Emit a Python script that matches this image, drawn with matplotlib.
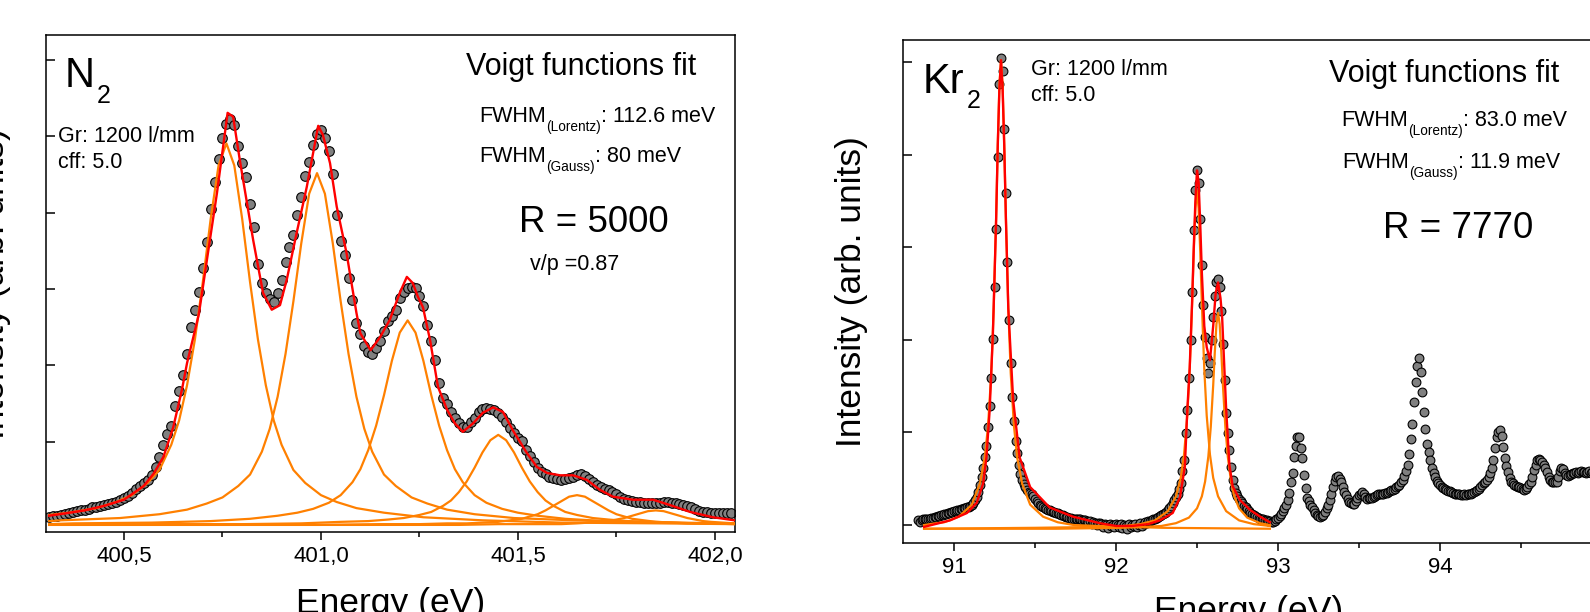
import numpy as np
import matplotlib
matplotlib.use("Agg")
import matplotlib.pyplot as plt
from matplotlib.ticker import MultipleLocator, FuncFormatter

plt.rcParams["font.family"] = ["Liberation Sans", "DejaVu Sans"]

# ===============================
# N2 panel: measured spectrum (0.01 eV steps) + Voigt fit
# ===============================
n2_e_start = 400.31
n2_e_step = 0.01
n2_counts = [
    1, 3, 3, 4, 5, 7, 8, 9, 10, 11,
    12, 14, 14, 16, 17, 18, 20, 21, 23, 26,
    29, 33, 38, 42, 46, 50, 56, 67, 80, 96,
    110, 121, 147, 166, 188, 215, 250, 272, 296, 328,
    362, 405, 440, 470, 498, 517, 523, 515, 488, 465,
    447, 412, 381, 333, 308, 295, 287, 283, 295, 312,
    336, 355, 371, 397, 421, 448, 467, 489, 503, 509,
    498, 481, 451, 397, 363, 345, 315, 286, 256, 241,
    225, 218, 215, 223, 232, 245, 258, 265, 273, 288,
    296, 301, 303, 301, 291, 278, 253, 232, 207, 177,
    157, 149, 139, 131, 125, 119, 119, 126, 131, 139,
    143, 144, 143, 142, 138, 132, 126, 118, 111, 105,
    101, 89, 81, 73, 66, 60, 58, 54, 52, 51,
    50, 51, 52, 54, 56, 58, 55, 51, 47, 43,
    41, 38, 37, 34, 31, 28, 25, 24, 22, 21,
    21, 20, 20, 20, 20, 20, 21, 21, 20, 20,
    18, 17, 16, 14, 12, 9, 8, 8, 7, 7,
    7, 7, 7, 7,
]

n2_fit_e = [400.31, 400.35, 400.40, 400.45, 400.50, 400.55, 400.575, 400.60,
            400.625, 400.647, 400.66, 400.69, 400.713, 400.736, 400.763, 400.777,
            400.794, 400.828, 400.853, 400.875, 400.896, 400.913, 400.938, 400.964,
            400.993, 401.005, 401.023, 401.04, 401.065, 401.09, 401.10, 401.126,
            401.15, 401.175, 401.20, 401.218, 401.233, 401.246, 401.259, 401.277,
            401.297, 401.32, 401.34, 401.36, 401.386, 401.411, 401.437, 401.462,
            401.487, 401.523, 401.548, 401.574, 401.607, 401.64, 401.675, 401.708,
            401.741, 401.792, 401.843, 401.886, 401.937, 401.995, 402.05]
n2_fit = [3, 6, 10, 16, 24, 42, 58, 80,
          119, 168, 203, 267, 347, 426, 531, 526,
          469, 364, 295, 273, 279, 312, 373, 434,
          514, 502, 465, 408, 347, 269, 242, 220,
          237, 260, 295, 316, 308, 290, 276, 233,
          172, 142, 124, 113, 124, 138, 145, 139,
          115, 85, 67, 59, 56, 56, 50, 37,
          28, 24, 24, 17, 8, 1, -3]

# Voigt components (orange)
n2_c1_e = [400.31, 400.36, 400.43, 400.48, 400.52, 400.56, 400.59, 400.62, 400.64, 400.66,
           400.68, 400.70, 400.72, 400.74, 400.76, 400.78, 400.80, 400.82, 400.84, 400.86,
           400.88, 400.90, 400.93, 400.96, 401.00, 401.04, 401.09, 401.16, 401.26, 401.41,
           401.61, 401.86, 402.05]
n2_c1 = [4, 7, 13, 21, 30, 46, 63, 96, 128, 174,
         234, 309, 392, 462, 491, 462, 392, 309, 234, 174,
         128, 96, 63, 46, 30, 21, 13, 7, 1, -3,
         -6, -7, -8]

n2_c2_e = [400.31, 400.34, 400.49, 400.59, 400.66, 400.71, 400.75, 400.79, 400.82, 400.85,
           400.87, 400.89, 400.91, 400.93, 400.95, 400.97, 400.99, 401.01, 401.03, 401.05,
           401.07, 401.09, 401.11, 401.13, 401.16, 401.19, 401.23, 401.27, 401.32, 401.39,
           401.49, 401.64, 401.84, 402.05]
n2_c2 = [-4, -3, 0, 5, 11, 19, 27, 42, 57, 87,
         117, 159, 215, 284, 360, 425, 452, 425, 360, 284,
         215, 159, 117, 87, 57, 42, 27, 19, 11, 5,
         0, -3, -6, -7]

n2_c3_e = [400.31, 400.37, 400.57, 400.72, 400.82, 400.89, 400.94, 400.98, 401.02, 401.05,
           401.08, 401.10, 401.12, 401.14, 401.16, 401.18, 401.20, 401.22, 401.24, 401.26,
           401.28, 401.30, 401.32, 401.34, 401.36, 401.39, 401.42, 401.46, 401.50, 401.55,
           401.62, 401.72, 401.87, 402.05]
n2_c3 = [-8, -7, -6, -4, -1, 3, 7, 12, 20, 30,
         47, 64, 89, 121, 161, 206, 243, 259, 243, 206,
         161, 121, 89, 64, 47, 30, 20, 12, 7, 3,
         -1, -4, -6, -7]

n2_c4_e = [400.31, 400.60, 400.80, 400.95, 401.05, 401.12, 401.17, 401.21, 401.25, 401.28,
           401.31, 401.33, 401.35, 401.37, 401.39, 401.41, 401.43, 401.45, 401.47, 401.49,
           401.51, 401.53, 401.55, 401.57, 401.59, 401.62, 401.65, 401.69, 401.73, 401.78,
           401.85, 401.95, 402.05]
n2_c4 = [-9, -8, -8, -7, -5, -4, -2, 0, 4, 8,
         16, 23, 34, 48, 66, 86, 102, 109, 102, 86,
         66, 48, 34, 23, 16, 8, 4, 0, -2, -4,
         -5, -7, -7]

n2_c5_e = [400.31, 400.80, 401.00, 401.15, 401.25, 401.32, 401.37, 401.41, 401.45, 401.48,
           401.51, 401.53, 401.55, 401.57, 401.59, 401.61, 401.63, 401.65, 401.67, 401.69,
           401.71, 401.73, 401.75, 401.77, 401.79, 401.82, 401.85, 401.89, 401.93, 401.98,
           402.05]
n2_c5 = [-9, -9, -9, -8, -8, -7, -7, -6, -5, -3,
         -1, 2, 5, 10, 16, 22, 28, 30, 28, 22,
         16, 10, 5, 2, -1, -3, -5, -6, -7, -7,
         -8]

n2_c6_e = [400.31, 401.00, 401.20, 401.35, 401.45, 401.52, 401.57, 401.61, 401.65, 401.68,
           401.71, 401.73, 401.75, 401.77, 401.79, 401.81, 401.83, 401.85, 401.87, 401.89,
           401.91, 401.93, 401.95, 401.97, 401.99, 402.02, 402.05]
n2_c6 = [-9, -9, -9, -9, -8, -8, -8, -8, -7, -6,
         -5, -4, -2, 0, 3, 6, 9, 10, 9, 6,
         3, 0, -2, -4, -5, -6, -7]

# ===============================
# Kr2 panel: measured spectrum (0.01 eV steps) + Voigt fit
# ===============================
kr_e_start = 90.78
kr_e_step = 0.01
kr_counts = [
    5, 3, 5, 6, 6, 7, 6, 7, 8, 8,
    9, 9, 10, 10, 11, 11, 12, 12, 13, 13,
    14, 14, 15, 15, 16, 16, 17, 17, 18, 18,
    19, 20, 21, 22, 24, 27, 30, 36, 43, 52,
    62, 73, 85, 106, 129, 159, 201, 257, 320, 397,
    476, 504, 490, 428, 359, 284, 221, 175, 138, 112,
    91, 78, 65, 55, 49, 44, 41, 38, 36, 35,
    33, 31, 28, 26, 24, 22, 21, 20, 18, 17,
    16, 16, 15, 14, 14, 13, 13, 12, 11, 11,
    10, 9, 9, 8, 8, 7, 7, 7, 6, 6,
    6, 5, 5, 5, 4, 3, 4, 1, 3, 2,
    0, 2, 2, 1, -2, 1, 0, -3, 1, -1,
    0, -2, 1, 0, -2, 1, -3, 0, -1, -4,
    1, -2, 0, -1, 1, -2, 0, 2, -1, 1,
    3, 2, 4, 4, 5, 6, 7, 8, 9, 10,
    11, 12, 13, 14, 16, 18, 21, 24, 27, 30,
    34, 39, 45, 58, 70, 99, 124, 159, 200, 252,
    319, 362, 383, 369, 330, 281, 238, 203, 180, 164,
    175, 200, 225, 247, 262, 266, 257, 231, 195, 157,
    121, 99, 81, 63, 49, 40, 35, 31, 28, 26,
    24, 21, 19, 17, 15, 13, 12, 11, 10, 9,
    8, 7, 7, 6, 5, 5, 4, 4, 3, 3,
    4, 6, 8, 10, 12, 15, 18, 22, 27, 35,
    47, 56, 74, 85, 95, 95, 83, 72, 54, 40,
    29, 26, 22, 20, 16, 13, 11, 10, 9, 10,
    11, 14, 18, 22, 27, 34, 41, 48, 52, 53,
    50, 46, 41, 36, 32, 28, 25, 24, 23, 23,
    26, 29, 32, 34, 36, 33, 30, 28, 29, 29,
    29, 30, 31, 32, 33, 33, 34, 34, 35, 35,
    36, 37, 38, 38, 39, 41, 42, 43, 46, 49,
    53, 58, 65, 77, 93, 109, 133, 154, 172, 180,
    165, 144, 122, 104, 87, 79, 70, 62, 56, 52,
    48, 45, 43, 41, 40, 39, 38, 37, 37, 36,
    35, 34, 34, 33, 33, 32, 32, 33, 32, 33,
    34, 34, 35, 36, 37, 38, 39, 41, 43, 45,
    47, 49, 52, 56, 62, 70, 83, 95, 101, 103,
    96, 84, 72, 64, 57, 51, 47, 45, 43, 42,
    41, 41, 40, 39, 38, 39, 41, 44, 47, 52,
    59, 65, 70, 71, 70, 68, 65, 62, 57, 52,
    49, 47, 46, 46, 47, 52, 58, 62, 60, 56,
    54, 53, 54, 55, 56, 56, 57, 56, 57, 58,
    57, 57, 56, 57, 58, 56, 57, 56, 57,
]

kr_fit_e = [90.815, 90.975, 91.08, 91.14, 91.18, 91.20, 91.22, 91.24, 91.26, 91.27,
            91.28, 91.29, 91.30, 91.31, 91.32, 91.335, 91.365, 91.405, 91.47, 91.59,
            91.735, 91.90, 92.00, 92.10, 92.20, 92.27, 92.35, 92.395, 92.425, 92.44,
            92.455, 92.47, 92.48, 92.49, 92.50, 92.51, 92.52, 92.53, 92.545, 92.56,
            92.58, 92.60, 92.615, 92.63, 92.645, 92.655, 92.67, 92.68, 92.69, 92.70,
            92.72, 92.765, 92.83, 92.89, 92.95]
kr_fit = [-2, 5, 13, 24, 45, 73, 124, 207, 330, 410,
          470, 502, 470, 410, 333, 234, 135, 73, 41, 19,
          9, 2, -1, -1, 1, 5, 13, 30, 63, 124,
          170, 243, 300, 350, 383, 370, 325, 272, 215, 192,
          178, 215, 250, 262, 245, 225, 165, 125, 95, 65,
          42, 27, 16, 9, 3]

kr_c1_e = [90.815, 90.89, 90.94, 91.03, 91.11, 91.16, 91.19, 91.21, 91.23, 91.245,
           91.26, 91.27, 91.28, 91.29, 91.30, 91.31, 91.32, 91.335, 91.35, 91.37,
           91.39, 91.42, 91.47, 91.55, 91.64, 91.74, 91.89, 92.29, 92.95]
kr_c1 = [0, 2, 3, 9, 22, 45, 73, 107, 164, 234,
         333, 410, 475, 502, 475, 410, 333, 234, 164, 107,
         73, 45, 22, 9, 3, 0, -1, -3, -4]

kr_c2_e = [90.815, 91.50, 91.90, 92.05, 92.15, 92.24, 92.32, 92.37, 92.40, 92.42,
           92.44, 92.455, 92.47, 92.48, 92.49, 92.50, 92.51, 92.52, 92.53, 92.545,
           92.56, 92.58, 92.60, 92.63, 92.68, 92.76, 92.85, 92.95]
kr_c2 = [-4, -3, -2, -1, 1, 5, 15, 31, 51, 76,
         118, 168, 239, 295, 342, 361, 342, 295, 239, 168,
         118, 76, 51, 31, 15, 5, 1, -1]

kr_c3_e = [90.815, 91.63, 92.03, 92.18, 92.28, 92.37, 92.45, 92.50, 92.53, 92.55,
           92.57, 92.585, 92.60, 92.61, 92.62, 92.63, 92.64, 92.65, 92.66, 92.675,
           92.69, 92.71, 92.73, 92.76, 92.81, 92.89, 92.95]
kr_c3 = [-4, -4, -3, -2, -1, 2, 8, 18, 31, 47,
         74, 106, 151, 187, 217, 229, 217, 187, 151, 106,
         74, 47, 31, 18, 8, 2, 0]

# ===============================
# Figura
# ===============================
W, H = 1590, 612
fig = plt.figure(figsize=(W / 100, H / 100), dpi=100)


def px_axes(left, top, right, bottom):
    return fig.add_axes([left / W, 1 - bottom / H, (right - left) / W, (bottom - top) / H])


def ftext(x, y, s, size):
    return fig.text(x / W, 1 - y / H, s, fontsize=size, ha="left", va="baseline")


def fwhm_text(ax, x, y, sub, rest):
    # "FWHM" + subindice bajo + resto, encadenados
    t1 = ftext(x, y, "FWHM", 15.5)
    t2 = ax.annotate(sub, xy=(1, 0), xycoords=t1, xytext=(0.3, -2.6),
                     textcoords="offset points", fontsize=9.8,
                     ha="left", va="baseline", annotation_clip=False)
    ax.annotate(rest, xy=(1, 0), xycoords=(t2, t1), xytext=(0, 0),
                textcoords="offset points", fontsize=15.5,
                ha="left", va="bottom", annotation_clip=False)


ax1 = px_axes(46, 35, 735, 532)
ax2 = px_axes(903, 40, 1595, 543)

gray = "#808080"
red = "#ff0000"
orange = "#ff8000"

# --- N2 ---
n2_e = np.round(n2_e_start + n2_e_step * np.arange(len(n2_counts)), 3)
ax1.scatter(n2_e, n2_counts, s=48, facecolor=gray, edgecolor="black", linewidths=0.8, zorder=2)
for ce, cv in [(n2_c1_e, n2_c1), (n2_c2_e, n2_c2), (n2_c3_e, n2_c3),
               (n2_c4_e, n2_c4), (n2_c5_e, n2_c5), (n2_c6_e, n2_c6)]:
    ax1.plot(ce, cv, color=orange, lw=1.6, zorder=3)
ax1.plot(n2_fit_e, n2_fit, color=red, lw=1.7, zorder=4)

ax1.set_xlim(400.302, 402.051)
ax1.set_ylim(-18.3, 633)
ax1.xaxis.set_major_locator(MultipleLocator(0.5))
ax1.xaxis.set_minor_locator(MultipleLocator(0.25))
ax1.xaxis.set_major_formatter(FuncFormatter(lambda v, p: f"{v:.1f}".replace(".", ",")))
ax1.yaxis.set_major_locator(MultipleLocator(100))

# --- Kr2 ---
kr_e = np.round(kr_e_start + kr_e_step * np.arange(len(kr_counts)), 3)
ax2.scatter(kr_e, kr_counts, s=40, facecolor=gray, edgecolor="black", linewidths=0.8, zorder=2)
for ce, cv in [(kr_c1_e, kr_c1), (kr_c2_e, kr_c2), (kr_c3_e, kr_c3)]:
    ax2.plot(ce, cv, color=orange, lw=1.6, zorder=3)
ax2.plot(kr_fit_e, kr_fit, color=red, lw=1.7, zorder=4)

ax2.set_xlim(90.685, 94.957)
ax2.set_ylim(-19.4, 523.8)
ax2.xaxis.set_major_locator(MultipleLocator(1))
ax2.xaxis.set_minor_locator(MultipleLocator(0.5))
ax2.xaxis.set_major_formatter(FuncFormatter(lambda v, p: f"{v:.0f}"))
ax2.yaxis.set_major_locator(MultipleLocator(100))

for ax, w_px, h_px, xl_off in [(ax1, 689, 497, 55), (ax2, 692, 503, 52)]:
    for s in ax.spines.values():
        s.set_linewidth(1.1)
    ax.tick_params(axis="x", which="major", direction="out", length=5.8, width=1.1,
                   labelsize=16, pad=4, top=False)
    ax.tick_params(axis="x", which="minor", direction="out", length=3.6, width=1.1, top=False)
    ax.tick_params(axis="y", which="major", direction="in", length=6.5, width=1.1,
                   labelleft=False, right=False)
    ax.tick_params(axis="y", which="minor", left=False, right=False)
    ax.set_ylabel("Intensity (arb. units)", fontsize=25.5)
    ax.yaxis.set_label_coords(-35 / w_px, 0.5)
    ax.set_xlabel("Energy (eV)", fontsize=25.5)
    ax.xaxis.set_label_coords(0.5, -xl_off / h_px)

# Anotaciones N2
ftext(65, 87, "N", 30)
ftext(97, 103, "2", 18)
ftext(58, 142, "Gr: 1200 l/mm", 15.5)
ftext(58, 168, "cff: 5.0", 15.5)
ftext(466, 75, "Voigt functions fit", 22)
fwhm_text(ax1, 479, 122, "(Lorentz)", ": 112.6 meV")
fwhm_text(ax1, 479, 162, "(Gauss)", ": 80 meV")
ftext(519, 232, "R = 5000", 26.5)
ftext(530, 270, "v/p =0.87", 15.5)

# Anotaciones Kr2
ftext(923, 93, "Kr", 30)
ftext(967, 108, "2", 18)
ftext(1031, 75, "Gr: 1200 l/mm", 15.5)
ftext(1031, 101, "cff: 5.0", 15.5)
ftext(1329, 82, "Voigt functions fit", 22)
fwhm_text(ax2, 1341, 126, "(Lorentz)", ": 83.0 meV")
fwhm_text(ax2, 1342, 168, "(Gauss)", ": 11.9 meV")
ftext(1383, 238, "R = 7770", 26.5)

fig.savefig("out.png", dpi=100)
